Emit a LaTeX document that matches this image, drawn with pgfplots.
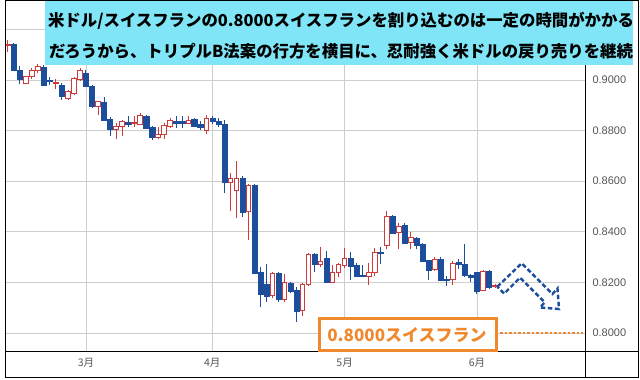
\documentclass[border=0pt]{standalone}
\usepackage{fontspec}
\setmainfont{Liberation Sans}
\newfontfamily\jp{Noto Sans CJK JP}
\usepackage{pgfplots}
\pgfplotsset{compat=1.18}
\usepackage{pgfplotstable}
\definecolor{cblue}{RGB}{28,78,155}
\definecolor{cred}{RGB}{208,58,58}
\definecolor{gridc}{RGB}{206,206,206}
\definecolor{titlebg}{RGB}{128,229,247}
\definecolor{orng}{RGB}{240,136,46}
\definecolor{labgray}{RGB}{85,85,85}
\pgfdeclareplotmark{blank}{}
\pgfplotstableread{
k open high low close
-13 0.9135 0.9158 0.9111 0.9140
-12 0.9142 0.9145 0.9037 0.9037
-11 0.9040 0.9055 0.8983 0.9003
-10 0.8987 0.9017 0.8983 0.9013
-9 0.9013 0.9047 0.9004 0.9037
-8 0.9037 0.9063 0.9029 0.9053
-7 0.9050 0.9058 0.8978 0.8981
-6 0.8999 0.9010 0.8980 0.8996
-5 0.8985 0.9004 0.8964 0.8989
-4 0.8980 0.8987 0.8921 0.8935
-3 0.8927 0.8960 0.8921 0.8954
-2 0.8947 0.9013 0.8941 0.9007
-1 0.9002 0.9046 0.8997 0.9037
0 0.9026 0.9040 0.8971 0.8974
1 0.8976 0.8980 0.8888 0.8897
2 0.8897 0.8918 0.8862 0.8914
3 0.8914 0.8934 0.8839 0.8842
4 0.8845 0.8855 0.8777 0.8805
5 0.8805 0.8829 0.8765 0.8815
6 0.8817 0.8842 0.8779 0.8835
7 0.8835 0.8858 0.8813 0.8825
8 0.8827 0.8858 0.8813 0.8830
9 0.8825 0.8868 0.8822 0.8858
10 0.8858 0.8862 0.8805 0.8809
11 0.8815 0.8820 0.8761 0.8772
12 0.8772 0.8815 0.8765 0.8783
13 0.8783 0.8831 0.8765 0.8822
14 0.8818 0.8848 0.8809 0.8839
15 0.8834 0.8856 0.8809 0.8831
16 0.8836 0.8856 0.8809 0.8829
17 0.8829 0.8858 0.8826 0.8842
18 0.8844 0.8848 0.8813 0.8818
19 0.8825 0.8836 0.8801 0.8812
20 0.8802 0.8862 0.8787 0.8848
21 0.8848 0.8858 0.8826 0.8839
22 0.8839 0.8848 0.8816 0.8826
23 0.8826 0.8842 0.8555 0.8594
24 0.8594 0.8634 0.8483 0.8611
25 0.8562 0.8680 0.8453 0.8611
26 0.8611 0.8621 0.8460 0.8479
27 0.8479 0.8589 0.8368 0.8585
28 0.8585 0.8589 0.8236 0.8238
29 0.8241 0.8262 0.8104 0.8153
30 0.8194 0.8273 0.8124 0.8147
31 0.8147 0.8242 0.8137 0.8236
32 0.8236 0.8242 0.8124 0.8134
33 0.8134 0.8233 0.8124 0.8199
34 0.8196 0.8202 0.8158 0.8166
35 0.8170 0.8183 0.8045 0.8088
36 0.8088 0.8199 0.8067 0.8192
37 0.8192 0.8316 0.8186 0.8311
38 0.8311 0.8315 0.8242 0.8272
39 0.8269 0.8341 0.8262 0.8282
40 0.8295 0.8325 0.8199 0.8199
41 0.8199 0.8269 0.8199 0.8240
42 0.8240 0.8278 0.8220 0.8269
43 0.8266 0.8335 0.8256 0.8295
44 0.8295 0.8321 0.8209 0.8266
45 0.8269 0.8278 0.8220 0.8223
46 0.8227 0.8269 0.8220 0.8224
47 0.8223 0.8275 0.8190 0.8238
48 0.8238 0.8335 0.8225 0.8317
49 0.8319 0.8341 0.8273 0.8316
50 0.8345 0.8482 0.8332 0.8460
51 0.8462 0.8466 0.8395 0.8396
52 0.8396 0.8436 0.8331 0.8423
53 0.8427 0.8435 0.8352 0.8356
54 0.8357 0.8399 0.8333 0.8377
55 0.8373 0.8380 0.8331 0.8346
56 0.8350 0.8357 0.8284 0.8284
57 0.8287 0.8289 0.8209 0.8249
58 0.8253 0.8302 0.8247 0.8289
59 0.8293 0.8301 0.8204 0.8207
60 0.8211 0.8227 0.8187 0.8209
61 0.8210 0.8284 0.8191 0.8276
62 0.8277 0.8293 0.8253 0.8274
63 0.8271 0.8350 0.8223 0.8227
64 0.8229 0.8233 0.8200 0.8222
65 0.8240 0.8243 0.8156 0.8167
66 0.8170 0.8250 0.8167 0.8244
67 0.8244 0.8247 0.8174 0.8181
68 0.8185 0.8194 0.8178 0.8188
}\candles
\begin{document}
\begin{tikzpicture}
\useasboundingbox (0,0) rectangle (640pt,380pt);
\fill[white] (0,0) rectangle (640pt,380pt);
\begin{axis}[at={(5pt,28pt)}, anchor=south west, scale only axis,
  width=580pt, height=351pt,
  xmin=-13.466, xmax=82.959, ymin=0.79249, ymax=0.931225,
  axis line style={draw=none},
  major tick length=0pt,
  xtick={0,21,43,65}, xticklabels={3月,4月,5月,6月},
  xticklabel style={font=\jp\fontsize{10.5}{12}\selectfont, text=labgray, yshift=-3pt},
  ytick={0.80,0.82,0.84,0.86,0.88,0.90},
  extra y ticks={0.92}, extra y tick labels={},
  extra y tick style={grid=major},
  yticklabel pos=right,
  yticklabel style={font=\fontsize{11}{13}\selectfont, text=labgray, xshift=4pt,
    /pgf/number format/.cd, fixed, fixed zerofill, precision=4, assume math mode=true},
  grid=major, grid style={gridc, line width=0.8pt},
]
\addplot[scatter, only marks, mark=blank,
  visualization depends on={\thisrow{open}\as\copen},
  visualization depends on={\thisrow{high}\as\chigh},
  visualization depends on={\thisrow{close}\as\cclose},
  visualization depends on={\thisrow{low}\as\clow},
  scatter/@pre marker code/.code={%
    \pgfmathsetmacro\hh{2530*(\chigh-\clow)}%
    \pgfmathsetmacro\bo{2530*(\copen-\clow)}%
    \pgfmathsetmacro\bc{2530*(\cclose-\clow)}%
    \pgfmathsetmacro\bb{min(\bo,\bc)}%
    \pgfmathsetmacro\bt{max(max(\bo,\bc),\bb+1.2)}%
    \pgfmathparse{\cclose>\copen?1:0}%
    \ifdim\pgfmathresult pt>0.5pt
      \draw[cred, line width=0.9pt] (0pt,0pt) -- (0pt,\hh pt);
      \draw[cred, fill=white, line width=0.9pt] (-2.3pt,\bb pt) rectangle (2.3pt,\bt pt);
    \else
      \draw[cblue, line width=1pt] (0pt,0pt) -- (0pt,\hh pt);
      \fill[cblue] (-2.6pt,\bb pt) rectangle (2.6pt,\bt pt);
    \fi
  },
  scatter/@post marker code/.code={},
] table[x=k, y=low] {\candles};
\end{axis}
% inner frame lines
\draw[black, line width=1pt] (585pt,2pt) -- (585pt,379pt);
\draw[black, line width=1pt] (5pt,28pt) -- (638pt,28pt);
% title box
\fill[titlebg] (45pt,315pt) rectangle (633pt,380pt);
\node[font=\jp\bfseries\fontsize{16.4}{18}\selectfont, inner sep=0pt] at (341pt,359pt)
  {米ドル/スイスフランの0.8000スイスフランを割り込むのは一定の時間がかかる};
\node[font=\jp\bfseries\fontsize{16.4}{18}\selectfont, inner sep=0pt] at (341pt,329pt)
  {だろうから、トリプルB法案の行方を横目に、忍耐強く米ドルの戻り売りを継続};
% orange label
\draw[orng, line width=3pt, fill=white] (319.5pt,29.5pt) rectangle (496.5pt,61.5pt);
\node[text=orng, font=\jp\bfseries\fontsize{17}{19}\selectfont, inner sep=0pt] at (407pt,45pt) {0.8000スイスフラン};
\draw[orng, line width=2.6pt, dash pattern=on 2.6pt off 1.9pt] (500pt,47pt) -- (583pt,47pt);
% blue dashed arrow
\draw[cblue, line width=2.4pt, dash pattern=on 4.5pt off 2.5pt, line join=miter]
  (497.3pt,93.3pt) -- (521.7pt,116.7pt) -- (552.4pt,86pt) -- (557.5pt,91.5pt)
  -- (559pt,71pt) -- (540pt,72.5pt) -- (544.7pt,77.6pt) -- (520pt,102.3pt)
  -- (504.2pt,86.4pt) -- cycle;
% outer frame
\draw[black, line width=1pt] (5.5pt,2pt) rectangle (638pt,379.5pt);
\end{tikzpicture}
\end{document}
